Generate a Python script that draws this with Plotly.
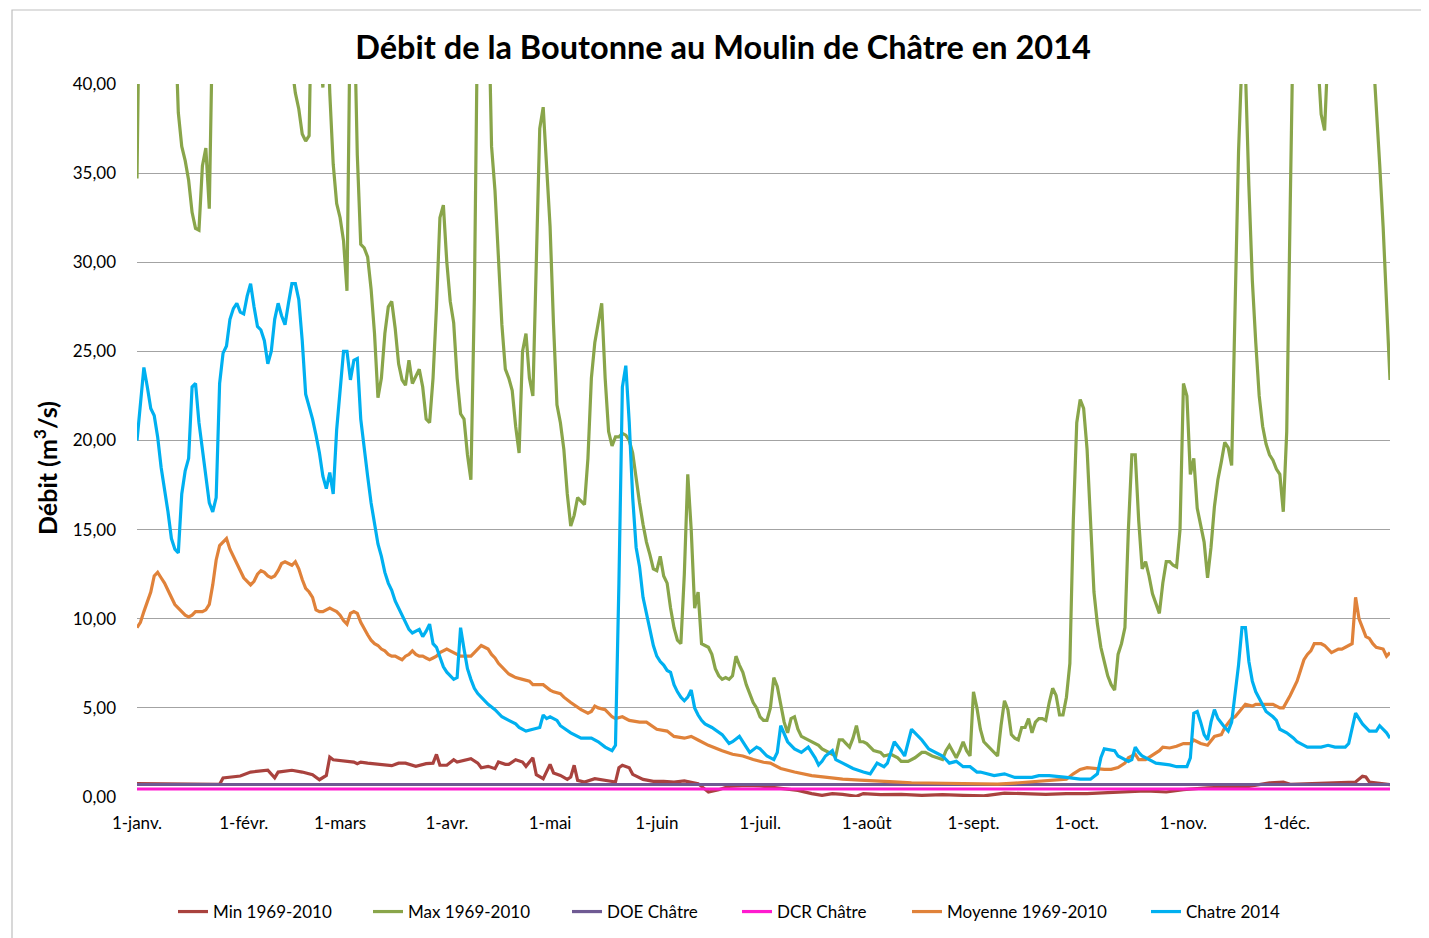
import pandas as pd
import plotly.graph_objects as go

# ---------------- data (day offset from 1 Jan 2014, discharge m3/s) ----------------
chatre_day = [0, 2, 3, 4, 5, 6, 7, 8, 9, 10, 11, 12, 13, 14, 15, 16, 17, 18, 19, 20,
              21, 22, 23, 24, 25, 26, 27, 28, 29, 30, 31, 32, 33, 34, 35, 36, 37, 38, 39, 40,
              41, 42, 43, 44, 45, 46, 47, 48, 49, 50, 51, 52, 53, 54, 55, 56, 57, 58, 59, 60,
              61, 62, 63, 64, 65, 66, 67, 68, 69, 70, 71, 72, 73, 74, 75, 76, 77, 78, 79, 80,
              81, 82, 83, 84, 85, 86, 87, 88, 89, 90, 91, 92, 93, 94, 95, 96, 97, 98, 99, 100,
              102, 104, 105, 106, 108, 110, 111, 113, 115, 117, 118, 119, 120, 122, 123, 125, 126, 129, 132, 134,
              136, 138, 139, 140, 141, 142, 143, 144, 145, 146, 147, 148, 149, 150, 151, 152, 153, 154, 155, 156,
              157, 158, 159, 160, 161, 162, 163, 164, 165, 167, 170, 172, 173, 175, 177, 178, 180, 181, 183, 185,
              186, 187, 189, 191, 193, 195, 197, 198, 199, 200, 202, 203, 205, 208, 211, 213, 215, 217, 218, 220,
              222, 223, 225, 226, 228, 230, 231, 234, 236, 238, 240, 242, 244, 245, 249, 252, 255, 260, 262, 265,
              270, 274, 277, 279, 280, 281, 284, 285, 288, 289, 290, 291, 292, 294, 296, 300, 302, 305, 306, 307,
              308, 309, 310, 311, 312, 313, 314, 316, 317, 318, 319, 320, 321, 322, 323, 324, 325, 326, 328, 330,
              331, 332, 334, 336, 337, 339, 340, 344, 346, 348, 351, 352, 353, 354, 356, 358, 360, 361, 363, 364]
chatre_q = [20.0, 24.1, 23.0, 21.8, 21.4, 20.2, 18.5, 17.3, 16.0, 14.5, 13.9, 13.7, 17.0, 18.3, 19.0, 23.0, 23.2, 21.0, 19.5, 17.8,
            16.5, 16.0, 16.8, 23.2, 24.9, 25.3, 26.8, 27.4, 27.7, 27.2, 27.1, 28.1, 28.8, 27.5, 26.4, 26.2, 25.6, 24.3, 25.0, 26.8,
            27.7, 27.0, 26.5, 27.7, 28.8, 28.8, 27.9, 25.6, 22.6, 21.9, 21.2, 20.3, 19.3, 18.0, 17.3, 18.2, 17.0, 20.6, 23.0, 25.0,
            25.0, 23.4, 24.5, 24.6, 21.2, 19.5, 18.0, 16.5, 15.2, 14.2, 13.5, 12.6, 12.0, 11.6, 11.0, 10.6, 10.1, 9.8, 9.4, 9.2,
            9.3, 9.4, 9.0, 9.3, 9.7, 8.6, 8.4, 7.8, 7.3, 7.0, 6.8, 6.6, 6.7, 9.5, 8.3, 7.2, 6.6, 6.1, 5.8, 5.6,
            5.2, 4.9, 4.7, 4.5, 4.3, 4.1, 3.9, 3.7, 3.8, 3.9, 4.6, 4.4, 4.5, 4.3, 4.0, 3.7, 3.6, 3.3, 3.3, 3.1,
            2.8, 2.6, 2.9, 12.0, 23.0, 24.2, 21.0, 16.8, 14.0, 12.9, 11.2, 10.3, 9.3, 8.5, 7.9, 7.6, 7.4, 7.1, 7.0, 6.3,
            5.9, 5.6, 5.4, 5.6, 6.0, 5.0, 4.6, 4.3, 4.1, 3.9, 3.5, 3.0, 3.1, 3.4, 2.8, 2.5, 2.8, 2.7, 2.3, 2.1,
            2.5, 4.0, 3.1, 2.7, 2.5, 2.8, 2.2, 1.8, 2.0, 2.3, 2.6, 2.1, 1.9, 1.6, 1.4, 1.3, 1.9, 1.7, 1.9, 3.1,
            2.6, 2.3, 3.8, 3.6, 3.2, 2.7, 2.6, 2.3, 1.9, 2.0, 1.7, 1.7, 1.4, 1.4, 1.2, 1.3, 1.1, 1.1, 1.2, 1.2,
            1.1, 1.0, 1.0, 1.3, 2.2, 2.7, 2.6, 2.3, 2.0, 2.1, 2.8, 2.5, 2.3, 2.1, 1.9, 1.8, 1.7, 1.7, 2.2, 4.7,
            4.8, 4.2, 3.5, 3.2, 4.2, 4.9, 4.4, 3.9, 3.7, 4.2, 5.9, 7.4, 9.5, 9.5, 7.6, 6.5, 5.9, 5.5, 4.8, 4.5,
            4.3, 3.8, 3.6, 3.3, 3.1, 2.9, 2.8, 2.8, 2.9, 2.8, 2.8, 3.0, 3.8, 4.7, 4.1, 3.7, 3.7, 4.0, 3.6, 3.3]

moy_day = [0, 1, 2, 3, 4, 5, 6, 7, 8, 9, 10, 11, 12, 13, 14, 15, 16, 17, 19, 20,
           21, 22, 23, 24, 25, 26, 27, 28, 29, 30, 31, 32, 33, 34, 35, 36, 37, 38, 39, 40,
           41, 42, 43, 44, 45, 46, 47, 48, 49, 50, 51, 52, 53, 54, 55, 56, 57, 58, 59, 60,
           61, 62, 63, 64, 65, 66, 67, 68, 69, 70, 71, 72, 73, 74, 75, 76, 77, 78, 79, 80,
           81, 82, 83, 84, 85, 86, 87, 88, 89, 90, 91, 92, 94, 96, 97, 98, 99, 100, 101, 102,
           103, 104, 105, 106, 107, 108, 109, 110, 112, 114, 115, 118, 120, 121, 123, 124, 126, 128, 129, 131,
           132, 133, 134, 136, 138, 139, 141, 143, 146, 148, 151, 154, 156, 159, 161, 163, 166, 170, 173, 176,
           179, 182, 184, 187, 191, 196, 200, 205, 210, 215, 220, 225, 230, 235, 240, 245, 250, 255, 260, 265,
           270, 272, 274, 276, 278, 281, 283, 285, 287, 288, 290, 291, 293, 295, 297, 298, 300, 302, 304, 306,
           307, 309, 311, 313, 315, 316, 318, 319, 321, 322, 324, 325, 328, 330, 332, 333, 335, 337, 338, 339,
           340, 341, 342, 344, 345, 347, 349, 350, 352, 353, 354, 355, 356, 357, 358, 359, 360, 362, 363, 364]
moy_q = [9.5, 9.8, 10.4, 10.9, 11.5, 12.4, 12.6, 12.3, 12.0, 11.6, 11.2, 10.8, 10.6, 10.4, 10.2, 10.1, 10.2, 10.4, 10.4, 10.5,
         10.8, 11.9, 13.3, 14.1, 14.3, 14.5, 13.9, 13.5, 13.1, 12.6, 12.3, 12.1, 11.9, 12.1, 12.5, 12.7, 12.6, 12.4, 12.3, 12.4,
         12.7, 13.1, 13.2, 13.1, 13.0, 13.2, 12.8, 12.2, 11.7, 11.5, 11.2, 10.5, 10.4, 10.4, 10.5, 10.6, 10.5, 10.4, 10.2, 9.9,
         9.7, 10.3, 10.4, 10.3, 9.8, 9.4, 9.1, 8.8, 8.6, 8.5, 8.3, 8.2, 8.0, 7.9, 7.9, 7.8, 7.7, 7.9, 8.0, 8.2,
         8.0, 7.9, 7.9, 7.8, 7.7, 7.8, 7.9, 8.1, 8.2, 8.3, 8.2, 8.1, 7.9, 7.9, 7.9, 8.1, 8.3, 8.5, 8.4, 8.3,
         8.0, 7.8, 7.5, 7.3, 7.1, 6.9, 6.8, 6.7, 6.6, 6.5, 6.3, 6.3, 6.0, 5.9, 5.8, 5.6, 5.3, 5.0, 4.9, 4.7,
         4.8, 5.1, 5.0, 4.9, 4.5, 4.4, 4.5, 4.3, 4.2, 4.2, 3.8, 3.7, 3.4, 3.3, 3.4, 3.2, 2.9, 2.6, 2.4, 2.3,
         2.1, 1.95, 1.9, 1.6, 1.4, 1.2, 1.1, 1.0, 0.95, 0.88, 0.85, 0.8, 0.78, 0.75, 0.75, 0.72, 0.72, 0.78, 0.85, 0.95,
         1.0, 1.3, 1.55, 1.65, 1.6, 1.55, 1.55, 1.65, 1.9, 2.2, 2.4, 2.1, 2.1, 2.35, 2.6, 2.8, 2.75, 2.85, 3.0, 3.0,
         3.2, 3.0, 2.9, 3.4, 3.5, 3.9, 4.4, 4.5, 5.0, 5.2, 5.1, 5.2, 5.2, 5.2, 5.0, 5.0, 5.7, 6.5, 7.1, 7.7,
         8.0, 8.2, 8.6, 8.6, 8.5, 8.1, 8.3, 8.3, 8.5, 8.6, 11.2, 10.0, 9.5, 9.0, 8.9, 8.6, 8.4, 8.3, 7.9, 8.1]

max_day = [0, 1, 5, 10, 11, 12, 13, 14, 15, 16, 17, 18, 19, 20, 21, 22, 23, 30, 40, 44,
           45, 46, 47, 48, 49, 50, 51, 52, 53, 54, 55, 56, 57, 58, 59, 60, 61, 62, 63, 64,
           65, 66, 67, 68, 69, 70, 71, 72, 73, 74, 75, 76, 77, 78, 79, 80, 81, 82, 83, 84,
           85, 86, 87, 88, 89, 90, 91, 92, 93, 94, 95, 96, 97, 98, 99, 100, 101, 102, 103, 104,
           105, 106, 107, 108, 109, 110, 111, 112, 113, 114, 115, 116, 117, 118, 119, 120, 121, 122, 123, 124,
           125, 126, 127, 128, 129, 130, 131, 132, 133, 134, 135, 136, 137, 138, 139, 140, 141, 142, 143, 144,
           145, 146, 147, 148, 149, 150, 151, 152, 153, 154, 155, 156, 157, 158, 159, 160, 161, 162, 163, 164,
           165, 166, 167, 168, 169, 170, 171, 172, 173, 174, 175, 176, 177, 178, 179, 180, 181, 182, 183, 184,
           185, 186, 187, 188, 189, 190, 191, 192, 193, 194, 195, 196, 197, 198, 199, 200, 201, 202, 203, 204,
           205, 206, 207, 208, 209, 210, 211, 212, 213, 214, 216, 217, 219, 221, 222, 224, 226, 228, 229, 231,
           234, 235, 236, 238, 239, 240, 241, 242, 243, 244, 245, 246, 247, 248, 249, 250, 251, 252, 253, 254,
           255, 256, 257, 258, 259, 260, 261, 262, 263, 264, 265, 266, 267, 268, 269, 270, 271, 272, 273, 274,
           275, 276, 277, 278, 279, 280, 281, 282, 283, 284, 285, 286, 287, 288, 289, 290, 291, 292, 293, 294,
           295, 296, 297, 298, 299, 300, 301, 302, 303, 304, 305, 306, 307, 308, 309, 310, 311, 312, 313, 314,
           315, 316, 317, 318, 319, 320, 321, 322, 323, 324, 325, 326, 327, 328, 329, 330, 331, 332, 333, 334,
           335, 336, 340, 343, 344, 345, 346, 350, 355, 359, 360, 361, 362, 363, 364]
max_q = [34.7, 50.0, 60.0, 52.0, 44.0, 38.4, 36.5, 35.7, 34.6, 32.8, 31.9, 31.8, 35.4, 36.4, 33.0, 43.0, 55.0, 60.0, 58.0, 50.0,
         41.0, 39.5, 38.6, 37.2, 36.8, 37.1, 48.0, 50.0, 42.0, 39.8, 46.0, 39.5, 35.5, 33.3, 32.5, 31.2, 28.4, 45.0, 45.0, 36.0,
         31.0, 30.8, 30.3, 28.5, 26.0, 22.4, 23.5, 26.0, 27.5, 27.8, 26.3, 24.3, 23.4, 23.1, 24.5, 23.2, 23.6, 24.0, 23.0, 21.2,
         21.0, 23.5, 27.5, 32.5, 33.2, 30.0, 27.8, 26.6, 23.5, 21.5, 21.2, 19.2, 17.8, 28.0, 45.0, 60.0, 55.0, 45.0, 36.5, 34.0,
         30.5, 26.5, 24.0, 23.5, 22.8, 20.8, 19.3, 25.0, 26.0, 23.5, 22.5, 30.0, 37.5, 38.7, 35.0, 32.0, 26.5, 22.0, 21.0, 19.5,
         17.0, 15.2, 15.8, 16.8, 16.6, 16.4, 19.0, 23.5, 25.5, 26.6, 27.7, 23.5, 20.5, 19.7, 20.2, 20.2, 20.4, 20.3, 20.0, 19.3,
         17.8, 16.5, 15.3, 14.3, 13.6, 12.8, 12.7, 13.5, 12.4, 12.0, 10.6, 9.5, 8.8, 8.6, 12.5, 18.1, 15.0, 10.6, 11.5, 8.6,
         8.5, 8.4, 8.0, 7.2, 6.8, 6.6, 6.7, 6.6, 6.8, 7.9, 7.4, 7.0, 6.3, 5.8, 5.3, 5.0, 4.5, 4.3, 4.3, 5.0,
         6.7, 6.2, 5.2, 4.2, 3.6, 4.4, 4.5, 3.8, 3.4, 3.3, 3.2, 3.1, 3.0, 2.9, 2.7, 2.6, 2.5, 2.4, 2.3, 3.2,
         3.2, 3.0, 2.8, 3.3, 4.0, 3.1, 3.1, 3.0, 2.8, 2.6, 2.5, 2.3, 2.4, 2.2, 2.0, 2.0, 2.2, 2.5, 2.5, 2.3,
         2.1, 2.6, 2.9, 2.2, 2.6, 3.1, 2.6, 2.3, 5.9, 5.0, 3.8, 3.1, 2.9, 2.7, 2.5, 2.3, 4.0, 5.4, 4.9, 3.5,
         3.3, 3.2, 3.9, 3.9, 4.4, 3.6, 4.2, 4.4, 4.4, 4.3, 5.3, 6.1, 5.7, 4.6, 4.6, 5.6, 7.5, 15.5, 21.0, 22.3,
         21.8, 19.5, 15.5, 11.5, 9.7, 8.4, 7.6, 6.8, 6.3, 6.0, 8.0, 8.6, 9.5, 15.0, 19.2, 19.2, 15.5, 12.8, 13.2, 12.4,
         11.4, 10.8, 10.3, 12.0, 13.2, 13.2, 13.0, 12.9, 15.0, 23.2, 22.5, 18.1, 19.0, 16.2, 15.2, 14.3, 12.3, 14.0, 16.3, 17.8,
         18.8, 19.9, 19.6, 18.6, 27.5, 36.2, 41.5, 40.8, 34.3, 29.0, 25.5, 22.5, 20.8, 19.8, 19.2, 18.9, 18.4, 18.1, 16.0, 20.5,
         33.0, 45.0, 60.0, 41.5, 38.3, 37.4, 42.0, 60.0, 55.0, 42.0, 39.5, 35.5, 32.0, 28.0, 23.4]

min_day = [0, 10, 24, 25, 28, 30, 33, 36, 38, 40, 41, 45, 48, 51, 53, 55, 56, 57, 61, 63,
           64, 65, 67, 70, 74, 76, 78, 81, 84, 86, 87, 88, 90, 92, 93, 97, 99, 100, 102, 104,
           105, 107, 108, 110, 112, 113, 115, 116, 118, 120, 121, 123, 125, 126, 127, 128, 130, 133, 136, 139,
           140, 141, 143, 144, 147, 150, 153, 156, 159, 163, 166, 169, 172, 177, 181, 188, 192, 196, 199, 202,
           205, 209, 211, 216, 222, 228, 234, 240, 246, 252, 258, 264, 270, 276, 282, 288, 293, 299, 304, 311,
           317, 323, 329, 333, 335, 341, 347, 351, 354, 356, 357, 358, 361, 364]
min_q = [0.75, 0.73, 0.71, 1.07, 1.12, 1.18, 1.40, 1.44, 1.50, 1.08, 1.40, 1.50, 1.40, 1.25, 0.97, 1.21, 2.24, 2.09, 2.00, 1.96,
         1.87, 1.96, 1.90, 1.83, 1.76, 1.90, 1.90, 1.72, 1.87, 1.90, 2.39, 1.78, 1.78, 2.09, 1.96, 2.15, 1.90, 1.64, 1.72, 1.59,
         1.96, 1.83, 1.83, 2.09, 1.96, 1.72, 2.20, 1.25, 1.03, 1.83, 1.35, 1.21, 0.99, 1.12, 1.78, 0.93, 0.84, 1.03, 0.93, 0.84,
         1.64, 1.78, 1.64, 1.27, 0.99, 0.88, 0.88, 0.84, 0.90, 0.75, 0.28, 0.41, 0.60, 0.65, 0.62, 0.47, 0.37, 0.19, 0.09, 0.19,
         0.15, 0.04, 0.19, 0.13, 0.15, 0.09, 0.13, 0.09, 0.06, 0.22, 0.19, 0.15, 0.19, 0.19, 0.24, 0.28, 0.34, 0.28, 0.41, 0.52,
         0.56, 0.60, 0.79, 0.84, 0.71, 0.75, 0.79, 0.84, 0.84, 1.16, 1.12, 0.84, 0.75, 0.69]

doe_day = [0, 364]
doe_q = [0.70, 0.70]
dcr_day = [0, 364]
dcr_q = [0.45, 0.45]

month_ticks = ["2014-01-01", "2014-02-01", "2014-03-01", "2014-04-01", "2014-05-01", "2014-06-01",
               "2014-07-01", "2014-08-01", "2014-09-01", "2014-10-01", "2014-11-01", "2014-12-01"]
month_labels = ["1-janv.", "1-févr.", "1-mars", "1-avr.", "1-mai", "1-juin",
                "1-juil.", "1-août", "1-sept.", "1-oct.", "1-nov.", "1-déc."]

# ---------------- figure ----------------
base = pd.Timestamp("2014-01-01")


def to_dates(days):
    return base + pd.to_timedelta(days, unit="D")


FONT = "Lato, 'Open Sans', sans-serif"

# page is offset by the 8px body margin: figure 1421x930, plot area at page x 137-1390, y 84-797
W, H = 1421, 930
ML, MT = 129, 76
PW, PH = 1253, 713


def px_x(page_x):
    return (page_x - 8 - ML) / PW


def px_y(page_y):
    return 1 - (page_y - 8 - MT) / PH


series = [
    ("Min 1969-2010", min_day, min_q, "#A9423E", 213),
    ("Max 1969-2010", max_day, max_q, "#89A54A", 408),
    ("DOE Châtre", doe_day, doe_q, "#6F5A93", 607),
    ("DCR Châtre", dcr_day, dcr_q, "#FF1ACF", 777),
    ("Moyenne 1969-2010", moy_day, moy_q, "#E0823A", 947),
    ("Chatre 2014", chatre_day, chatre_q, "#00B0F0", 1186),
]

fig = go.Figure()
legends = {}
for i, (name, d, q, col, text_x) in enumerate(series):
    lname = "legend" if i == 0 else "legend%d" % (i + 1)
    fig.add_trace(go.Scatter(x=to_dates(d), y=q, mode="lines", name=name,
                             line=dict(color=col, width=3.2), legend=lname))
    legends[lname] = dict(orientation="h", x=px_x(text_x - 40), xanchor="left",
                          y=px_y(912), yanchor="middle",
                          font=dict(family=FONT, size=17, color="black"),
                          bgcolor="rgba(0,0,0,0)", borderwidth=0)

fig.update_layout(
    width=W, height=H,
    paper_bgcolor="white", plot_bgcolor="white",
    margin=dict(l=ML, r=W - ML - PW, t=MT, b=H - MT - PH, autoexpand=False),
    separators=", ",
    font=dict(family=FONT, size=17, color="black"),
    title=dict(text="<b>Débit de la Boutonne au Moulin de Châtre en 2014</b>",
               x=(723 - 8) / W, xanchor="center", y=1 - (48 - 8) / H, yanchor="middle",
               font=dict(family=FONT, size=32.5, color="black")),
    showlegend=True,
    xaxis=dict(range=[to_dates([0])[0], to_dates([364])[0]], tickvals=month_ticks, ticktext=month_labels,
               showgrid=False, zeroline=False, showline=False, ticks="",
               ticklabelstandoff=14, tickfont=dict(size=17)),
    yaxis=dict(range=[0, 40], dtick=5, tick0=0, tickformat=".2f",
               showgrid=True, gridcolor="#A3A3A3", gridwidth=1.4,
               zeroline=False, showline=False, ticks="", ticklabelstandoff=20,
               tickfont=dict(size=17)),
    annotations=[dict(text="<b>Débit (m<sup>3</sup>/s)</b>", textangle=-90,
                      xref="paper", yref="paper", x=px_x(45), y=px_y(468),
                      xanchor="center", yanchor="middle", showarrow=False,
                      font=dict(family=FONT, size=25, color="black"))],
    shapes=[dict(type="rect", xref="paper", yref="paper",
                 x0=px_x(12), x1=1.2, y0=-0.4, y1=px_y(10),
                 line=dict(color="#BFBFBF", width=1.2), fillcolor="rgba(0,0,0,0)", layer="below")],
    **legends,
)

fig.write_html("out.html")
